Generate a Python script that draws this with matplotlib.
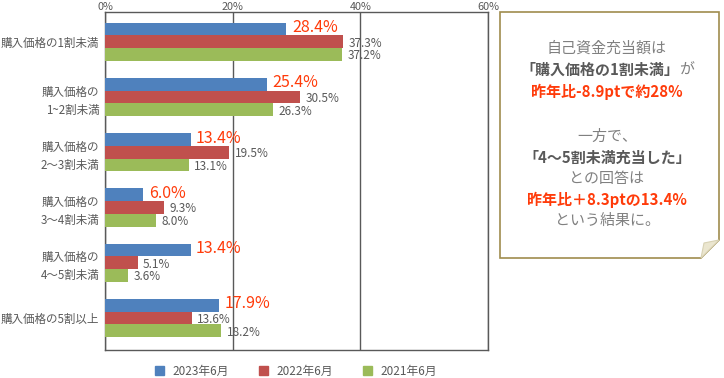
import matplotlib.pyplot as plt
import numpy as np
from matplotlib.patches import Patch, Polygon
from matplotlib.offsetbox import TextArea, HPacker, AnnotationBbox

plt.rcParams['font.family'] = ['Noto Sans CJK JP', 'DejaVu Sans']

categories = ["購入価格の1割未満", "購入価格の\n1~2割未満", "購入価格の\n2～3割未満",
              "購入価格の\n3～4割未満", "購入価格の\n4～5割未満", "購入価格の5割以上"]
series_names = ["2023年6月", "2022年6月", "2021年6月"]
v2023 = [28.4, 25.4, 13.4, 6.0, 13.4, 17.9]
v2022 = [37.3, 30.5, 19.5, 9.3, 5.1, 13.6]
v2021 = [37.2, 26.3, 13.1, 8.0, 3.6, 18.2]
ticks = [0, 20, 40, 60]

colors = ["#4F81BD", "#C0504D", "#9BBB59"]
gray = "#595959"
orange = "#FF3B0A"

fig = plt.figure(figsize=(7.24, 3.78), dpi=100)
ax = fig.add_axes([105/724, 1 - 350/378, 383/724, 338/378])

y = np.arange(len(categories))
h = 0.23
for i, vals in enumerate([v2023, v2022, v2021]):
    ypos = y + (i - 1) * h
    ax.barh(ypos, vals, height=h, color=colors[i], zorder=3)
    for yy, v in zip(ypos, vals):
        if i == 0:
            ax.annotate(f"{v:.1f}%", (v, yy), xytext=(4, 1), textcoords="offset points",
                        ha="left", va="center", fontsize=11.5, color=orange, zorder=4)
        else:
            ax.annotate(f"{v:.1f}%", (v, yy), xytext=(4, -1), textcoords="offset points",
                        ha="left", va="center", fontsize=8.5, color=gray, zorder=4)

ax.set_xlim(0, 60)
ax.set_ylim(len(categories) - 1 + 0.58, -0.54)
ax.set_yticks(y)
ax.set_yticklabels(categories, fontsize=8.3, color=gray, linespacing=1.5)
ax.set_xticks(ticks)
ax.set_xticklabels([f"{t}%" for t in ticks], fontsize=7.8, color=gray)
ax.get_xticklabels()[0].set_ha("left")
ax.xaxis.tick_top()
ax.tick_params(axis="x", length=0, pad=0)
ax.tick_params(axis="y", length=0, pad=4)
for s in ax.spines.values():
    s.set_color(gray)
    s.set_linewidth(1)
ax.grid(axis="x", color=gray, linewidth=1, zorder=1)

# legend
handles = [Patch(color=c, label=n) for c, n in zip(colors, series_names)]
leg = fig.legend(handles=handles, loc="center", bbox_to_anchor=(296/724, 7/378), ncol=3,
                 frameon=False, fontsize=8.5, handlelength=0.75, handleheight=0.75,
                 columnspacing=2.6, handletextpad=0.7)
for t in leg.get_texts():
    t.set_color(gray)

# comment box
W, H = 724, 378
pts = [(500, 12), (719, 12), (719, 240), (701, 258), (500, 258)]
box = Polygon([(px / W, 1 - py / H) for px, py in pts], closed=True,
              transform=fig.transFigure, facecolor="white", edgecolor="#A08C4E", linewidth=1.2)
fig.patches.append(box)
fold = [(719, 240), (701, 258), (704, 243)]
fig.patches.append(Polygon([(px / W, 1 - py / H) for px, py in fold], closed=True,
                           transform=fig.transFigure, facecolor="#EBE6CF", edgecolor="#D8D2B4", linewidth=0.8))

cx = 607 / W
light = "#808080"
fs = 10.8

def line(parts, ypix):
    areas = [TextArea(s, textprops=dict(fontsize=fs, color=c, fontweight=w)) for s, c, w in parts]
    pack = HPacker(children=areas, align="baseline", pad=0, sep=0)
    ab = AnnotationBbox(pack, (cx, 1 - ypix / H), xycoords="figure fraction", frameon=False,
                        box_alignment=(0.5, 0.5))
    fig.add_artist(ab)

line([("自己資金充当額は", light, "normal")], 49)
line([("「購入価格の1割未満」", gray, "bold"), ("が", light, "normal")], 70)
line([("昨年比-8.9ptで約28%", orange, "bold")], 92)
line([("一方で、", light, "normal")], 137)
line([("「4～5割未満充当した」", gray, "bold")], 158)
line([("との回答は", light, "normal")], 179)
line([("昨年比＋8.3ptの13.4%", orange, "bold")], 200)
line([("という結果に。", light, "normal")], 221)

fig.savefig("out.png", dpi=100)
